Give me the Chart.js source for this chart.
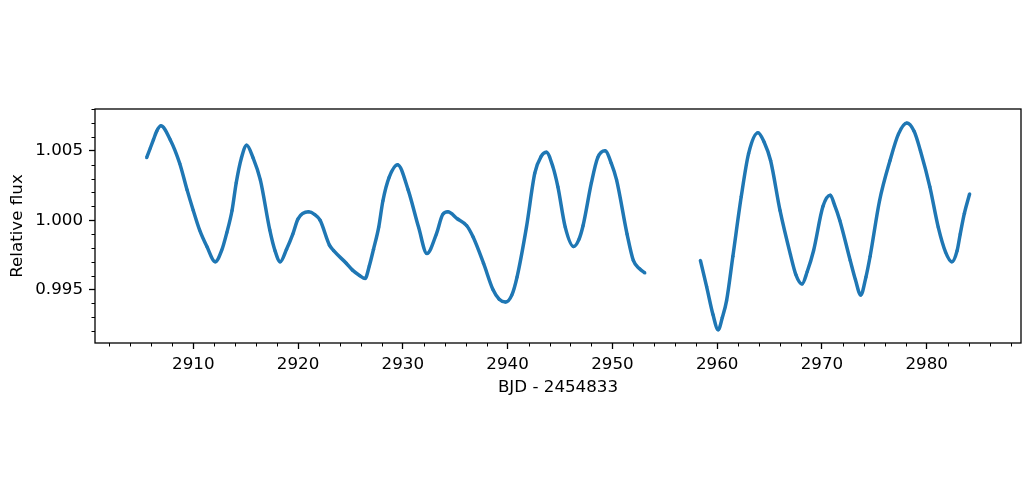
<!DOCTYPE html>
<html>
<head>
<meta charset="utf-8">
<script src="https://cdn.jsdelivr.net/npm/chart.js@4.4.1/dist/chart.umd.min.js"></script>
<style>
  html, body { margin: 0; padding: 0; background: #fff; }
  canvas { display: block; }
</style>
</head>
<body>
<canvas id="lc" width="1034" height="492"></canvas>
<script>
// light curve, first sector
const time1 = [2905.55, 2905.9, 2906.2, 2906.5, 2906.9, 2907.8, 2908.7, 2909.4, 2910.0, 2910.6,
  2911.3, 2912.1, 2912.7, 2913.2, 2913.7, 2914.1, 2914.6, 2915.1, 2915.7, 2916.4,
  2917.3, 2917.8, 2918.3, 2918.9, 2919.5, 2920.0, 2921.0, 2921.6, 2922.1, 2923.0,
  2923.4, 2924.6, 2925.2, 2925.9, 2926.4, 2926.8, 2927.2, 2927.7, 2928.1, 2928.7,
  2929.5, 2930.5, 2931.5, 2932.3, 2933.2, 2933.8, 2934.3, 2935.2, 2936.1, 2936.7,
  2937.7, 2938.6, 2939.2, 2939.8, 2940.4, 2940.9, 2941.8, 2942.6, 2943.2, 2943.7,
  2944.3, 2944.8, 2945.5, 2946.3, 2946.8, 2947.2, 2948.0, 2948.6, 2949.3, 2949.9,
  2950.4, 2951.4, 2952.0, 2952.6, 2953.1];
const flux1 = [1.0045, 1.0052, 1.0058, 1.0064, 1.0068, 1.0058, 1.0041, 1.0022, 1.0007, 0.9993,
  0.9981, 0.9970, 0.9978, 0.9991, 1.0007, 1.0027, 1.0045, 1.0054, 1.0045, 1.0029,
  0.9993, 0.9978, 0.9970, 0.9979, 0.9990, 1.0001, 1.0006, 1.0004, 1.0000, 0.9982,
  0.9978, 0.9969, 0.9964, 0.9960, 0.9958, 0.9967, 0.9979, 0.9995, 1.0014, 1.0031,
  1.0040, 1.0022, 0.9995, 0.9976, 0.9990, 1.0004, 1.0006, 1.0001, 0.9996, 0.9988,
  0.9969, 0.9950, 0.9943, 0.9941, 0.9946, 0.9959, 0.9995, 1.0034, 1.0046, 1.0049,
  1.0039, 1.0024, 0.9995, 0.9981, 0.9986, 0.9996, 1.0027, 1.0045, 1.0050, 1.0041,
  1.0029, 0.9990, 0.9971, 0.9965, 0.9962];

// second sector
const time2 = [2958.4, 2959.0, 2959.6, 2960.1, 2960.5, 2960.9, 2961.5, 2962.3, 2963.0, 2963.9,
  2964.5, 2965.1, 2966.0, 2967.0, 2967.5, 2968.1, 2968.6, 2969.2, 2970.1, 2970.8,
  2971.2, 2971.7, 2972.7, 2973.2, 2973.7, 2974.2, 2974.6, 2975.5, 2976.5, 2977.3,
  2978.1, 2978.8, 2979.4, 2980.3, 2981.1, 2981.8, 2982.4, 2982.9, 2983.2, 2983.6, 2984.1];
const flux2 = [0.9971, 0.9952, 0.9932, 0.9921, 0.9930, 0.9942, 0.9974, 1.0017, 1.0048, 1.0063,
  1.0056, 1.0043, 1.0007, 0.9975, 0.9961, 0.9954, 0.9963, 0.9978, 1.0010, 1.0018,
  1.0011, 1.0000, 0.9971, 0.9957, 0.9946, 0.9959, 0.9974, 1.0014, 1.0043, 1.0062,
  1.0070, 1.0064, 1.0050, 1.0024, 0.9995, 0.9977, 0.9970, 0.9978, 0.9990, 1.0005, 1.0019];

const xTicks = [2910, 2920, 2930, 2940, 2950, 2960, 2970, 2980];
const yTicks = [0.995, 1.000, 1.005];

const xMinor = [];
for (let v = 2902; v <= 2988; v += 2) if (v % 10 !== 0) xMinor.push(v);
const yMinor = [];
for (let k = 992; k <= 1008; k++) if (k % 5 !== 0) yMinor.push(k / 1000);

const blue = '#1f77b4';
const toPoints = (t, f) => t.map((v, i) => ({ x: v, y: f[i] }));

function seg(t, f) {
  return {
    data: toPoints(t, f),
    borderColor: blue,
    backgroundColor: blue,
    borderWidth: 3.5,
    pointRadius: 1.6,
    pointBorderWidth: 0,
    cubicInterpolationMode: 'monotone'
  };
}

// axes frame and minor ticks, the way matplotlib draws them
const frame = {
  id: 'frame',
  afterDraw(chart) {
    const { ctx, chartArea: a, scales: { x, y } } = chart;
    ctx.save();
    ctx.strokeStyle = '#000';
    ctx.lineWidth = 1.3;
    ctx.strokeRect(a.left, a.top, a.right - a.left, a.bottom - a.top);
    ctx.lineWidth = 1;
    ctx.beginPath();
    xMinor.forEach(v => {
      const px = Math.round(x.getPixelForValue(v)) + 0.5;
      ctx.moveTo(px, a.bottom);
      ctx.lineTo(px, a.bottom + 3.5);
    });
    yMinor.forEach(v => {
      const py = Math.round(y.getPixelForValue(v)) + 0.5;
      if (py < a.top - 1 || py > a.bottom + 1) return;
      ctx.moveTo(a.left, py);
      ctx.lineTo(a.left - 3.5, py);
    });
    ctx.stroke();
    ctx.restore();
  }
};

Chart.defaults.font.family = 'DejaVu Sans';
Chart.defaults.color = '#000';

new Chart(document.getElementById('lc'), {
  type: 'line',
  data: { datasets: [seg(time1, flux1), seg(time2, flux2)] },
  options: {
    responsive: false,
    animation: false,
    layout: { padding: { left: 4, right: 13, top: 109, bottom: 92 } },
    plugins: { legend: { display: false }, tooltip: { enabled: false } },
    scales: {
      x: {
        type: 'linear',
        min: 2900.62,
        max: 2989.0,
        afterBuildTicks: s => { s.ticks = xTicks.map(v => ({ value: v })); },
        afterFit: s => { s.height = 57; },
        grid: { drawOnChartArea: false, tickLength: 6, tickColor: '#000', tickWidth: 1.3 },
        border: { display: false },
        ticks: { font: { size: 16.7 }, padding: 6, maxRotation: 0, autoSkip: false, callback: v => String(v) },
        title: { display: true, text: 'BJD - 2454833', font: { size: 16.7 }, padding: { top: 4, bottom: 2 } }
      },
      y: {
        min: 0.99115,
        max: 1.00801,
        afterBuildTicks: s => { s.ticks = yTicks.map(v => ({ value: v })); },
        afterFit: s => { s.width = 91; },
        grid: { drawOnChartArea: false, tickLength: 6, tickColor: '#000', tickWidth: 1.3 },
        border: { display: false },
        ticks: { font: { size: 16.7 }, padding: 6, callback: v => v.toFixed(3) },
        title: { display: true, text: 'Relative flux', font: { size: 16.7 }, padding: { top: 4, bottom: 4 } }
      }
    }
  },
  plugins: [frame]
});
</script>
</body>
</html>
